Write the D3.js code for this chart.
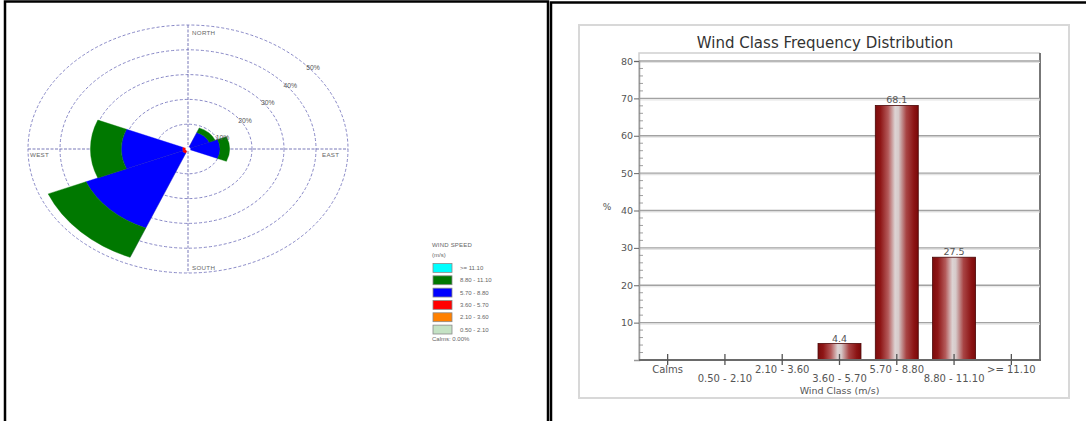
<!DOCTYPE html>
<html>
<head>
<meta charset="utf-8">
<script src="https://cdn.jsdelivr.net/npm/d3@7"></script>
<style>
  html, body { margin: 0; padding: 0; background: #fff; }
  svg { display: block; font-family: "Liberation Sans", Arial, sans-serif; }
  .bars-text { font-family: "DejaVu Sans", "Liberation Sans", sans-serif; }
</style>
</head>
<body>
<svg id="chart" width="1086" height="421"></svg>
<script>
// ---- Wind rose data: frequency (%) per direction sector, one array per speed class ----
const directions = ["N", "NE", "E", "SE", "S", "SW", "W", "NW"];
const speedClasses = ["0.50 - 2.10", "2.10 - 3.60", "3.60 - 5.70", "5.70 - 8.80", "8.80 - 11.10", ">= 11.10"];
const speedColors = ["#c4e2c4", "#ff8000", "#ff0000", "#0000ff", "#007800", "#00ffff"];
const freq050to210 = [0, 0, 0, 0, 0, 0, 0, 0];
const freq210to360 = [0, 0, 0, 0, 0, 0, 0, 0];
const freq360to570 = [0, 0.2, 0.4, 0, 0, 2.0, 1.8, 0];
const freq570to880 = [0, 7.0, 9.6, 0, 0, 32.5, 19.0, 0];
const freq880to1110 = [0, 2.0, 3.0, 0, 0, 12.8, 9.7, 0];
const freqAbove1110 = [0, 0, 0, 0, 0, 0, 0, 0];
const ringValues = [10, 20, 30, 40, 50];
const ringLabels = ["10%", "20%", "30%", "40%", "50%"];
const calmsText = "Calms: 0.00%";

// ---- Wind class frequency distribution ----
const windClasses = ["Calms", "0.50 - 2.10", "2.10 - 3.60", "3.60 - 5.70", "5.70 - 8.80", "8.80 - 11.10", ">= 11.10"];
const classFrequency = [0, 0, 0, 4.4, 68.1, 27.5, 0];
const yTickValues = [10, 20, 30, 40, 50, 60, 70, 80];

const svg = d3.select("#chart");

// ---------- panel borders ----------
const frame = svg.append("g").attr("fill", "none").attr("stroke", "#000").attr("stroke-width", 2.5);
frame.append("path").attr("d", d3.line()([[5, 430], [5, 1.5], [548, 1.5], [548, 430]]));
frame.append("path").attr("d", d3.line()([[551, 430], [551, 2.5], [1090, 2.5]]));

// ---------- wind rose ----------
const cx = 188, cy = 149, squash = 124 / 160;
const r = d3.scaleLinear().domain([0, 50]).range([0, 160]);
const rose = svg.append("g").attr("transform", `translate(${cx},${cy}) scale(1,${squash})`);

// rings
rose.selectAll("circle.ring").data(ringValues).join("circle")
  .attr("class", "ring")
  .attr("r", d => r(d))
  .attr("fill", "none")
  .attr("stroke", "#7b7bc0")
  .attr("stroke-width", 0.9)
  .attr("stroke-dasharray", "3,2")
  .attr("vector-effect", "non-scaling-stroke");

// axes
rose.append("line").attr("x1", -r(50)).attr("x2", r(50)).attr("y1", 0).attr("y2", 0)
  .attr("stroke", "#6a6ab0").attr("stroke-width", 0.9).attr("stroke-dasharray", "3,1.5")
  .attr("vector-effect", "non-scaling-stroke");
rose.append("line").attr("y1", -r(50)).attr("y2", r(50)).attr("x1", 0).attr("x2", 0)
  .attr("stroke", "#6a6ab0").attr("stroke-width", 0.9).attr("stroke-dasharray", "3,1.5")
  .attr("vector-effect", "non-scaling-stroke");

// stacked petals
const classSeries = [freq050to210, freq210to360, freq360to570, freq570to880, freq880to1110, freqAbove1110];
const roseRows = directions.map((dir, i) => {
  const row = { dir, index: i };
  speedClasses.forEach((c, k) => row[c] = classSeries[k][i]);
  return row;
});
const stacked = d3.stack().keys(speedClasses)(roseRows);
const sector = 2 * Math.PI / directions.length;
const petalArc = d3.arc()
  .innerRadius(d => r(d[0]))
  .outerRadius(d => r(d[1]))
  .startAngle(d => d.data.index * sector - sector / 2)
  .endAngle(d => d.data.index * sector + sector / 2);

stacked.forEach((layer, k) => {
  rose.append("g")
    .selectAll("path")
    .data(layer.filter(d => d[1] - d[0] > 0))
    .join("path")
    .attr("d", petalArc)
    .attr("fill", speedColors[k])
    .attr("stroke", speedColors[k])
    .attr("stroke-width", 0.4)
    .attr("vector-effect", "non-scaling-stroke");
});
// seam between adjoining sectors
rose.selectAll("line.seam").data(stacked[stacked.length - 1].filter(d => d[1] > 0)).join("line")
  .attr("class", "seam")
  .attr("x1", 0).attr("y1", 0)
  .attr("x2", d => r(d[1]) * Math.sin(d.data.index * sector - sector / 2))
  .attr("y2", d => -r(d[1]) * Math.cos(d.data.index * sector - sector / 2))
  .attr("stroke", "#20206a").attr("stroke-opacity", 0.35).attr("stroke-width", 0.6)
  .attr("vector-effect", "non-scaling-stroke");

rose.append("circle").attr("r", 2.6).attr("fill", "#fff");

// compass labels
const compass = svg.append("g").attr("font-size", 6.2).attr("fill", "#666").attr("letter-spacing", 0.3);
compass.append("text").attr("x", cx + 4).attr("y", cy - r(50) * squash + 10).text("NORTH");
compass.append("text").attr("x", cx + 4).attr("y", cy + r(50) * squash - 3).text("SOUTH");
compass.append("text").attr("x", cx - r(50) + 2).attr("y", cy + 8).text("WEST");
compass.append("text").attr("x", cx + r(50) - 26).attr("y", cy + 8).text("EAST");

// ring labels along the 45° bearing
const diag = Math.SQRT1_2;
svg.append("g").attr("font-size", 6.8).attr("fill", "#555")
  .selectAll("text").data(ringValues).join("text")
  .attr("x", d => cx + r(d) * diag + 5)
  .attr("y", d => cy - r(d) * squash * diag + 9)
  .text((d, i) => ringLabels[i]);

// legend
const legend = svg.append("g").attr("font-size", 6).attr("fill", "#666");
legend.append("text").attr("x", 432).attr("y", 247).attr("letter-spacing", 0.2).text("WIND SPEED");
legend.append("text").attr("x", 432).attr("y", 257).text("(m/s)");
const legendOrder = d3.range(speedClasses.length).reverse();
const legendRow = d3.scaleBand().domain(legendOrder).range([263.5, 334]).paddingInner(0.28);
legendOrder.forEach(k => {
  legend.append("rect")
    .attr("x", 433).attr("y", legendRow(k)).attr("width", 19).attr("height", legendRow.bandwidth())
    .attr("fill", speedColors[k]).attr("stroke", "#8a8a8a").attr("stroke-width", 0.8);
  legend.append("text").attr("x", 460).attr("y", legendRow(k) + legendRow.bandwidth() / 2 + 2.2)
    .text(speedClasses[k]);
});
legend.append("text").attr("x", 432).attr("y", 341).text(calmsText);

// ---------- bar chart ----------
const defs = svg.append("defs");
const grad = defs.append("linearGradient").attr("id", "barShade");
[[0, "#7c0c0c"], [0.12, "#8e1616"], [0.3, "#b45a5a"], [0.46, "#ddd3d3"], [0.54, "#d6caca"], [0.72, "#a84444"], [0.9, "#8c1414"], [1, "#7a0a0a"]]
  .forEach(([o, c]) => grad.append("stop").attr("offset", o).attr("stop-color", c));

const bars = svg.append("g").attr("class", "bars-text");

bars.append("rect").attr("x", 579).attr("y", 25).attr("width", 490).attr("height", 373)
  .attr("fill", "none").attr("stroke", "#d8d8d8").attr("stroke-width", 2);

bars.append("text").attr("x", 825).attr("y", 48).attr("text-anchor", "middle")
  .attr("font-size", 15).attr("fill", "#333").text("Wind Class Frequency Distribution");

const plotLeft = 639, plotRight = 1040, plotTop = 53, plotBottom = 360;
const x = d3.scaleBand().domain(windClasses).range([plotLeft, plotRight]).paddingInner(0.25).paddingOuter(0.125);
const xc = d3.scalePoint().domain(windClasses).range([plotLeft, plotRight]).padding(0.5);
const y = d3.scaleLinear().domain([0, 80]).range([plotBottom, 61]);

// plot box (light top/left, shaded right)
bars.append("path").attr("d", d3.line()([[plotLeft, plotBottom], [plotLeft, plotTop], [plotRight, plotTop]]))
  .attr("fill", "none").attr("stroke", "#d0d0d0").attr("stroke-width", 1.5);
bars.append("line").attr("x1", plotRight).attr("x2", plotRight).attr("y1", plotTop).attr("y2", plotBottom)
  .attr("stroke", "#777").attr("stroke-width", 2);

// gridlines
const grid = bars.append("g");
grid.selectAll("line.shadow").data(yTickValues).join("line").attr("class", "shadow")
  .attr("x1", plotLeft).attr("x2", plotRight).attr("y1", d => y(d) + 1.5).attr("y2", d => y(d) + 1.5)
  .attr("stroke", "#e4e4e4").attr("stroke-width", 1.2);
grid.selectAll("line.major").data(yTickValues).join("line").attr("class", "major")
  .attr("x1", plotLeft).attr("x2", plotRight).attr("y1", d => y(d)).attr("y2", d => y(d))
  .attr("stroke", "#a2a2a2").attr("stroke-width", 1.3);

// bars
const barData = windClasses.map((c, i) => ({ c, v: classFrequency[i] })).filter(d => d.v > 0);
bars.append("g").selectAll("rect").data(barData)
  .join("rect")
  .attr("x", d => x(d.c)).attr("width", x.bandwidth())
  .attr("y", d => y(d.v)).attr("height", d => y(0) - y(d.v))
  .attr("fill", "url(#barShade)").attr("stroke", "#4a0606").attr("stroke-width", 0.8);

bars.append("g").attr("font-size", 9.5).attr("fill", "#555").attr("text-anchor", "middle")
  .selectAll("text").data(barData)
  .join("text")
  .attr("x", d => xc(d.c)).attr("y", d => y(d.v) - 2)
  .text(d => d3.format(".1f")(d.v));

// y axis
const yAxis = bars.append("g").attr("transform", `translate(${plotLeft},0)`)
  .call(d3.axisLeft(y).tickValues(yTickValues).tickSize(5).tickFormat(d3.format("d")));
yAxis.select(".domain").attr("stroke", "#9a9a9a").attr("stroke-width", 1.5);
yAxis.selectAll(".tick line").attr("stroke", "#666");
yAxis.selectAll(".tick text").attr("font-size", 9.5).attr("fill", "#555")
  .attr("font-family", "DejaVu Sans, Liberation Sans, sans-serif").attr("x", -6);
// minor ticks inside the plot
bars.append("g").selectAll("line").data(d3.range(2, 80, 2).filter(v => v % 10 !== 0)).join("line")
  .attr("x1", plotLeft).attr("x2", plotLeft + 4).attr("y1", d => y(d)).attr("y2", d => y(d))
  .attr("stroke", "#888").attr("stroke-width", 0.8);

bars.append("text").attr("x", 607).attr("y", 210).attr("text-anchor", "middle")
  .attr("font-size", 9).attr("fill", "#555").text("%");

// x axis: baseline, crossing ticks and staggered labels
bars.append("line").attr("x1", plotLeft).attr("x2", plotRight + 1).attr("y1", plotBottom).attr("y2", plotBottom)
  .attr("stroke", "#6a6a6a").attr("stroke-width", 2.2);
bars.append("g").selectAll("line").data(windClasses).join("line")
  .attr("x1", d => xc(d)).attr("x2", d => xc(d)).attr("y1", plotBottom - 6).attr("y2", plotBottom + 5)
  .attr("stroke", "#555").attr("stroke-width", 1.3);
bars.append("g").attr("font-size", 10).attr("fill", "#555").attr("text-anchor", "middle")
  .selectAll("text").data(windClasses).join("text")
  .attr("x", d => xc(d)).attr("y", (d, i) => i % 2 === 0 ? 372.5 : 381.5)
  .text(d => d);
bars.append("text").attr("x", (plotLeft + plotRight) / 2).attr("y", 393.5).attr("text-anchor", "middle")
  .attr("font-size", 9.5).attr("fill", "#555").text("Wind Class (m/s)");
</script>
</body>
</html>
